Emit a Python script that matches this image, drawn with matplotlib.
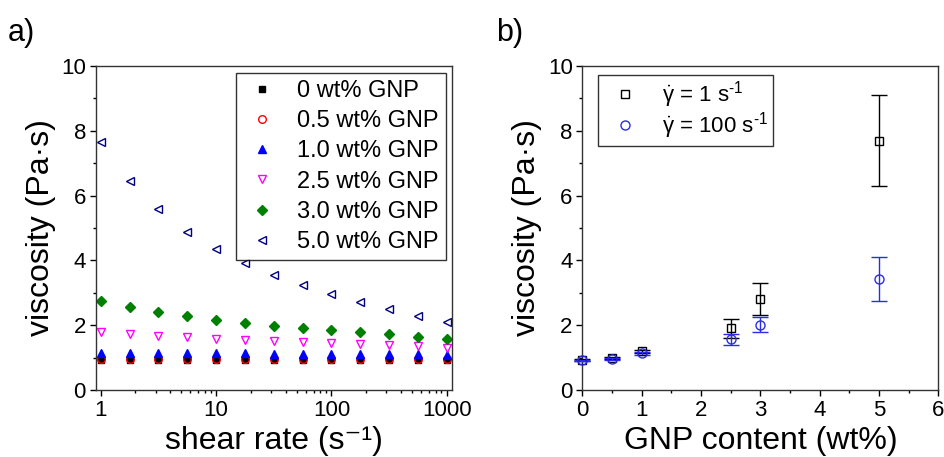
import numpy as np
import matplotlib
matplotlib.use("Agg")
import matplotlib.pyplot as plt
from matplotlib.ticker import MultipleLocator, FixedLocator, FixedFormatter, LogLocator, NullFormatter

plt.rcParams['font.family'] = ['Liberation Sans', 'DejaVu Sans']
plt.rcParams['mathtext.fontset'] = 'custom'
plt.rcParams['mathtext.rm'] = 'Liberation Sans'
plt.rcParams['mathtext.it'] = 'Liberation Sans'
plt.rcParams['mathtext.default'] = 'regular'

# ---- panel a: viscosity vs shear rate ----
shear_rate = [1, 1.78, 3.16, 5.62, 10, 17.8, 31.6, 56.2, 100, 178, 316, 562, 1000]
visc_0 = [0.94, 0.94, 0.94, 0.94, 0.94, 0.94, 0.94, 0.94, 0.94, 0.94, 0.94, 0.94, 0.94]
visc_05 = [0.97, 0.97, 0.97, 0.97, 0.97, 0.97, 0.97, 0.97, 0.97, 0.97, 0.97, 0.97, 0.97]
visc_10 = [1.15, 1.15, 1.14, 1.14, 1.13, 1.13, 1.12, 1.12, 1.11, 1.11, 1.10, 1.10, 1.09]
visc_25 = [1.78, 1.73, 1.67, 1.63, 1.58, 1.54, 1.50, 1.47, 1.44, 1.41, 1.39, 1.36, 1.31]
visc_30 = [2.75, 2.57, 2.42, 2.28, 2.17, 2.08, 1.99, 1.91, 1.84, 1.78, 1.72, 1.65, 1.57]
visc_50 = [7.66, 6.45, 5.58, 4.88, 4.34, 3.91, 3.54, 3.23, 2.95, 2.71, 2.49, 2.28, 2.10]

# ---- panel b: viscosity vs GNP content ----
gnp = [0, 0.5, 1.0, 2.5, 3.0, 5.0]
visc_1s = [0.93, 0.98, 1.20, 1.90, 2.80, 7.70]
err_1s = [0.03, 0.03, 0.05, 0.30, 0.50, 1.40]
visc_100s = [0.92, 0.97, 1.13, 1.57, 2.01, 3.44]
err_100s = [0.02, 0.03, 0.04, 0.17, 0.23, 0.68]

fig = plt.figure(figsize=(9.44, 4.57), dpi=100)
ax1 = fig.add_axes([0.1014, 0.1466, 0.3774, 0.709])
ax2 = fig.add_axes([0.6169, 0.1466, 0.3771, 0.709])

ms = 5.5
ax1.plot(shear_rate, visc_0, ls='none', marker='s', color='black', ms=ms - 1, label='0 wt% GNP')
ax1.plot(shear_rate, visc_05, ls='none', marker='o', mfc='none', mec='red', ms=ms, mew=1, label='0.5 wt% GNP')
ax1.plot(shear_rate, visc_10, ls='none', marker='^', color='blue', ms=ms + 0.5, label='1.0 wt% GNP')
ax1.plot(shear_rate, visc_25, ls='none', marker='v', mfc='none', mec='magenta', ms=ms + 0.5, mew=1, label='2.5 wt% GNP')
ax1.plot(shear_rate, visc_30, ls='none', marker='D', color='green', ms=ms - 0.5, label='3.0 wt% GNP')
ax1.plot(shear_rate, visc_50, ls='none', marker='<', mfc='none', mec='navy', ms=ms + 0.5, mew=1, label='5.0 wt% GNP')

ax1.set_xscale('log')
ax1.set_xlim(0.905, 1110)
ax1.set_ylim(0, 10)
ax1.xaxis.set_major_locator(FixedLocator([1, 10, 100, 1000]))
ax1.xaxis.set_major_formatter(FixedFormatter(['1', '10', '100', '1000']))
ax1.xaxis.set_minor_locator(LogLocator(base=10, subs=np.arange(2, 10)))
ax1.xaxis.set_minor_formatter(NullFormatter())
ax1.yaxis.set_major_locator(MultipleLocator(2))
ax1.yaxis.set_minor_locator(MultipleLocator(1))
ax1.set_xlabel('shear rate (s\u207b\u00b9)', fontsize=23, labelpad=4)
ax1.set_ylabel('viscosity (Pa·s)', fontsize=23, labelpad=4)
leg1 = ax1.legend(loc='upper right', fontsize=17, frameon=True, fancybox=False,
                  edgecolor='black', borderpad=0.3, handletextpad=0.68, handlelength=1.6,
                  labelspacing=0.35, borderaxespad=0, bbox_to_anchor=(0.983, 0.979))
leg1.get_frame().set_linewidth(1.0)

ax2.errorbar(gnp, visc_1s, yerr=err_1s, ls='none', marker='s', mfc='none', mec='black',
             ecolor='black', ms=5.5, mew=1, capsize=5.5, elinewidth=1, capthick=1,
             label=r'$\dot{\gamma}$ = 1 s$^{\text{-1}}$', clip_on=False, zorder=3)
ax2.errorbar(gnp, visc_100s, yerr=err_100s, ls='none', marker='o', mfc='none', mec='#2b2bf0',
             ecolor='#2b2bf0', ms=6.5, mew=1, capsize=5.5, elinewidth=1, capthick=1,
             label=r'$\dot{\gamma}$ = 100 s$^{\text{-1}}$', clip_on=False, zorder=3)
ax2.set_xlim(0, 6)
ax2.set_ylim(0, 10)
ax2.xaxis.set_major_locator(MultipleLocator(1))
ax2.xaxis.set_minor_locator(MultipleLocator(0.5))
ax2.yaxis.set_major_locator(MultipleLocator(2))
ax2.yaxis.set_minor_locator(MultipleLocator(1))
ax2.set_xlabel('GNP content (wt%)', fontsize=23, labelpad=4)
ax2.set_ylabel('viscosity (Pa·s)', fontsize=23, labelpad=4)
handles, labels = ax2.get_legend_handles_labels()
handles = [h[0] for h in handles]
leg2 = ax2.legend(handles, labels, loc='upper left', fontsize=16, frameon=True, fancybox=False,
                  edgecolor='black', borderpad=0.2, handlelength=2.0, handletextpad=0.7,
                  labelspacing=0.0, borderaxespad=0, bbox_to_anchor=(0.044, 0.972))
leg2.get_frame().set_linewidth(1.0)

for ax in (ax1, ax2):
    for sp in ax.spines.values():
        sp.set_linewidth(1.0)
        sp.set_color('#333333')
    ax.tick_params(which='major', direction='out', length=4, width=1, labelsize=16,
                   top=False, right=False, pad=3)
    ax.tick_params(which='minor', direction='out', length=2, width=1, top=False, right=False)

fig.text(0.008, 0.91, 'a)', fontsize=22)
fig.text(0.525, 0.91, 'b)', fontsize=22)

fig.savefig('out.png', dpi=100)
